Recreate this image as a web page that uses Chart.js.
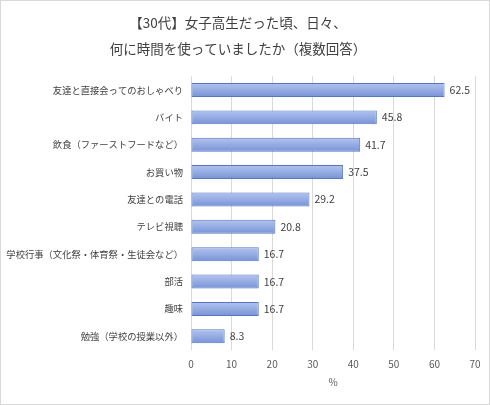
<!DOCTYPE html>
<html>
<head>
<meta charset="utf-8">
<script src="https://cdn.jsdelivr.net/npm/chart.js@4/dist/chart.umd.min.js"></script>
<style>
  body { margin: 0; background: #fff; }
  .wrap { width: 490px; height: 405px; box-sizing: border-box; border: 1px solid #d9d9d9; }
</style>
</head>
<body>
<div class="wrap"><canvas id="chart" width="488" height="403"></canvas></div>
<script>
const categories = [
    '友達と直接会ってのおしゃべり',
    'バイト',
    '飲食（ファーストフードなど）',
    'お買い物',
    '友達との電話',
    'テレビ視聴',
    '学校行事（文化祭・体育祭・生徒会など）',
    '部活',
    '趣味',
    '勉強（学校の授業以外）'
];
const values = [62.5, 45.8, 41.7, 37.5, 29.2, 20.8, 16.7, 16.7, 16.7, 8.3];
const titleLines = ['【30代】女子高生だった頃、日々、', '何に時間を使っていましたか（複数回答）'];

const FONT = '"Noto Sans CJK JP", "Noto Sans", sans-serif';

// value labels at the end of each bar
const valueLabels = {
    id: 'valueLabels',
    afterDatasetsDraw(chart) {
        const ctx = chart.ctx;
        const meta = chart.getDatasetMeta(0);
        ctx.save();
        ctx.font = '10.5px ' + FONT;
        ctx.fillStyle = '#404040';
        ctx.textAlign = 'left';
        ctx.textBaseline = 'middle';
        meta.data.forEach((bar, i) => {
            ctx.fillText(values[i].toFixed(1), bar.x + 5, bar.y);
        });
        ctx.restore();
    }
};

const barFill = (context) => {
    const chart = context.chart;
    const yScale = chart.scales.y;
    if (!yScale || !chart.chartArea) return '#95ace4';
    const cy = yScale.getPixelForValue(context.dataIndex);
    if (!Number.isFinite(cy)) return '#95ace4';
    const h = 7;
    const g = chart.ctx.createLinearGradient(0, cy - h, 0, cy + h);
    g.addColorStop(0, '#b3c3ee');
    g.addColorStop(0.5, '#95ace4');
    g.addColorStop(1, '#7792d6');
    return g;
};

new Chart(document.getElementById('chart'), {
    type: 'bar',
    data: {
        labels: categories,
        datasets: [{
            data: values,
            backgroundColor: barFill,
            borderColor: '#5677c0',
            borderWidth: 1,
            borderSkipped: false,
            barPercentage: 0.51,
            categoryPercentage: 1
        }]
    },
    plugins: [valueLabels],
    options: {
        indexAxis: 'y',
        responsive: false,
        animation: false,
        layout: { padding: { left: 0, right: 14, top: 0, bottom: 16 } },
        scales: {
            x: {
                min: 0,
                max: 70,
                ticks: { stepSize: 10, color: '#595959', font: { family: FONT, size: 10 }, padding: 8 },
                grid: { color: '#d9d9d9', drawTicks: false },
                border: { display: false },
                title: { display: true, text: '%', color: '#595959', font: { family: FONT, size: 10 }, padding: { top: 4, bottom: 0 } },
                afterFit: (scale) => { scale.height = 38; }
            },
            y: {
                ticks: { color: '#404040', font: { family: FONT, size: 9.3 }, padding: 8, autoSkip: false },
                grid: { display: false, drawTicks: false },
                border: { display: false },
                afterFit: (scale) => { scale.width = 190; }
            }
        },
        plugins: {
            legend: { display: false },
            tooltip: { enabled: false },
            title: {
                display: true,
                text: titleLines,
                color: '#404040',
                font: { family: FONT, size: 13.5, weight: 'normal', lineHeight: 1.9 },
                padding: { top: 9, bottom: 15 }
            }
        }
    }
});
</script>
</body>
</html>
